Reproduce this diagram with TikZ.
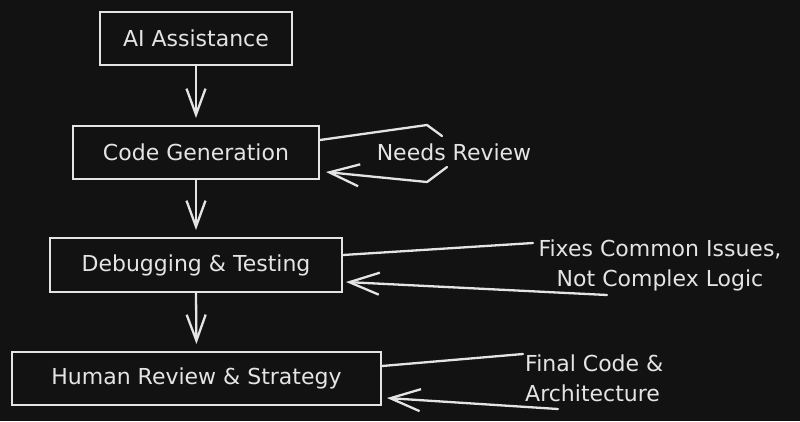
\documentclass[tikz,border=0pt]{standalone}
\usepackage{fontspec}
\setmainfont{DejaVu Sans}
\usetikzlibrary{arrows.meta,calc}
\definecolor{bgdark}{HTML}{121212}
\definecolor{chalk}{HTML}{E4E4E4}
\tikzset{
  stage/.style={draw=chalk,line width=2pt,text=chalk,minimum height=53pt,inner sep=0pt,font=\fontsize{22}{30}\selectfont},
  remark/.style={text=chalk,inner sep=0pt,font=\fontsize{22}{30}\selectfont},
  wire/.style={draw=chalk,line width=2.3pt,line cap=round,line join=round},
  flow/.style={wire,-{Straight Barb[length=26pt,width=19pt]},shorten >=7pt},
  back/.style={wire,-{Straight Barb[length=30pt,width=22pt]}}
}
\begin{document}
\begin{tikzpicture}[x=1pt,y=-1pt]
    \fill[bgdark] (0,0) rectangle (800,421);
    \node[stage,minimum width=192pt] (ai) at (196,38.5) {AI Assistance};
    \node[stage,minimum width=246pt] (gen) at (196,152.5) {Code Generation};
    \node[stage,minimum width=292pt,minimum height=54pt] (dbg) at (196,265) {Debugging \& Testing};
    \node[stage,minimum width=369pt] (hr) at (196.5,378.5) {Human Review \& Strategy};
    \node[remark] (needs) at (454,152) {Needs Review};
    \node[remark,align=center] (fixes) at (660,265) {Fixes Common Issues,\\Not Complex Logic};
    \node[remark,align=left,anchor=west] (final) at (525,378) {Final Code \&\\Architecture};
    \coordinate (n1) at (427,125);
    \coordinate (n2) at (442,136);
    \coordinate (n3) at (447,167);
    \coordinate (n4) at (427,182);
    \coordinate (f1) at (533,243);
    \coordinate (f2) at (607,295);
    \coordinate (a1) at (523,354);
    \coordinate (a2) at (558,409);
    \draw[flow] (ai.south) -- (gen.north);
    \draw[flow] (gen.south) -- (dbg.north);
    \draw[flow] (dbg.south) -- (hr.north);
    \draw[wire] ($(gen.east)+(0,-12.5)$) -- (n1) -- (n2);
    \draw[back] (n3) -- (n4) -- ($(gen.east)+(6,19.5)$);
    \draw[wire] ($(dbg.east)+(0,-10)$) -- (f1);
    \draw[back] (f2) -- ($(dbg.east)+(3,17)$);
    \draw[wire] ($(hr.east)+(0,-12.5)$) -- (a1);
    \draw[back] (a2) -- ($(hr.east)+(5,19.5)$);
\end{tikzpicture}
\end{document}
